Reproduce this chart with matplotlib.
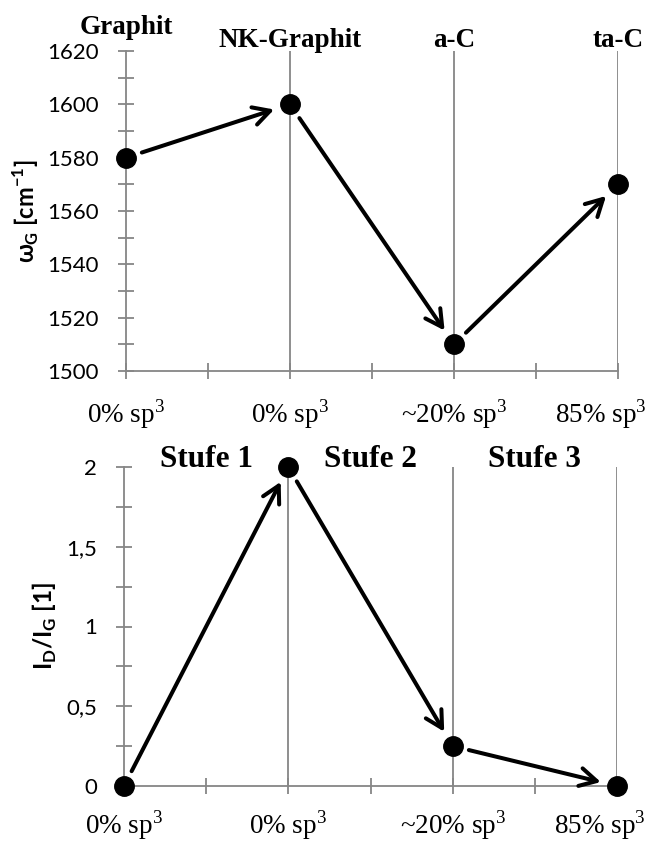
import matplotlib
matplotlib.use("Agg")
import matplotlib.pyplot as plt
import matplotlib.transforms as mtransforms
from matplotlib.ticker import MultipleLocator, FixedLocator, FixedFormatter, FuncFormatter

plt.rcParams['mathtext.fontset'] = 'custom'
plt.rcParams['mathtext.rm'] = 'Liberation Serif'
plt.rcParams['mathtext.sf'] = 'Lato:bold'

positions = [0, 1, 2, 3]
xticklabels = ["0% sp$^3$", "0% sp$^3$", "~20% sp$^3$", "85% sp$^3$"]
materials = ["Graphit", "NK-Graphit", "a-C", "ta-C"]
omega_g = [1580, 1600, 1510, 1570]
id_ig = [0, 2, 0.25, 0]
stages = ["Stufe 1", "Stufe 2", "Stufe 3"]
stage_pos = [0.5, 1.5, 2.5]

GRAY = "#868686"
SERIF = "Liberation Serif"
SANS = "Lato"

fig = plt.figure(figsize=(6.53, 8.43), dpi=100)
ax1 = fig.add_axes([126/653, 1-371/843, 492/653, 320/843])
ax2 = fig.add_axes([124/653, 1-786/843, 493/653, 319/843])


def style(ax, ylim, major, minor, xpad, ylabels=None):
    ax.set_xlim(0, 3)
    ax.set_ylim(*ylim)
    for s in ['top', 'right']:
        ax.spines[s].set_visible(False)
    for s in ['left', 'bottom']:
        ax.spines[s].set_color(GRAY)
        ax.spines[s].set_linewidth(1.3)
    ax.xaxis.set_major_locator(FixedLocator(positions))
    ax.xaxis.set_major_formatter(FixedFormatter(xticklabels))
    ax.xaxis.set_minor_locator(MultipleLocator(0.5))
    ax.yaxis.set_major_locator(MultipleLocator(major))
    ax.yaxis.set_minor_locator(MultipleLocator(minor))
    if ylabels is not None:
        ax.yaxis.set_major_formatter(ylabels)
    ax.tick_params(axis='both', which='both', direction='inout', color=GRAY, width=1.3)
    ax.tick_params(axis='y', which='both', length=11, pad=14, labelsize=16)
    ax.tick_params(axis='x', which='both', length=11, pad=xpad, labelsize=19.5)
    for lab in ax.get_yticklabels():
        lab.set_fontfamily(SANS)
    labs = ax.get_xticklabels()
    for lab in labs:
        lab.set_fontfamily(SERIF)
    off = mtransforms.ScaledTranslation(-17/100, 0, fig.dpi_scale_trans)
    labs[-1].set_transform(labs[-1].get_transform() + off)
    for x in positions[1:]:
        ax.axvline(x, color=GRAY, lw=1.3, zorder=1)


def arrows(ax, ys):
    ax.plot(positions, ys, 'o', color='black', markersize=14, clip_on=False, zorder=5)
    for i in range(len(ys) - 1):
        ax.annotate("", xy=(positions[i+1], ys[i+1]), xytext=(positions[i], ys[i]),
                    arrowprops=dict(arrowstyle="->,head_length=1.2,head_width=0.65",
                                    lw=2.9, color='black', shrinkA=12, shrinkB=12),
                    zorder=4, annotation_clip=False)


style(ax1, (1500, 1620), 20, 10, 13)
arrows(ax1, omega_g)
ax1.set_ylabel(r"ω$_\mathsf{G}$ [cm$^{\mathsf{-1}}$]", fontfamily=SANS, fontweight='bold', fontsize=17)
ax1.yaxis.set_label_coords(-0.172, 0.5)
label_y = [1.053, 1.0125, 1.0125, 1.0125]
for x, t, yy in zip(positions, materials, label_y):
    ax1.text(x, yy, t, transform=ax1.get_xaxis_transform(), ha='center', va='baseline',
             fontfamily=SERIF, fontweight='bold', fontsize=19.5)


def comma_fmt(v, p):
    return f"{v:g}".replace('.', ',')


style(ax2, (0, 2), 0.5, 0.25, 10.5, FuncFormatter(comma_fmt))
for lab in ax2.get_yticklabels():
    lab.set_fontfamily(SANS)
arrows(ax2, id_ig)
ax2.set_ylabel(r"I$_\mathsf{D}$/I$_\mathsf{G}$ [1]", fontfamily=SANS, fontweight='bold', fontsize=17.5)
ax2.yaxis.set_label_coords(-0.131, 0.5)
for x, t in zip(stage_pos, stages):
    ax2.text(x, 1.0, t, transform=ax2.get_xaxis_transform(), ha='center', va='baseline',
             fontfamily=SERIF, fontweight='bold', fontsize=22.5)

fig.savefig("out.png", dpi=100)
